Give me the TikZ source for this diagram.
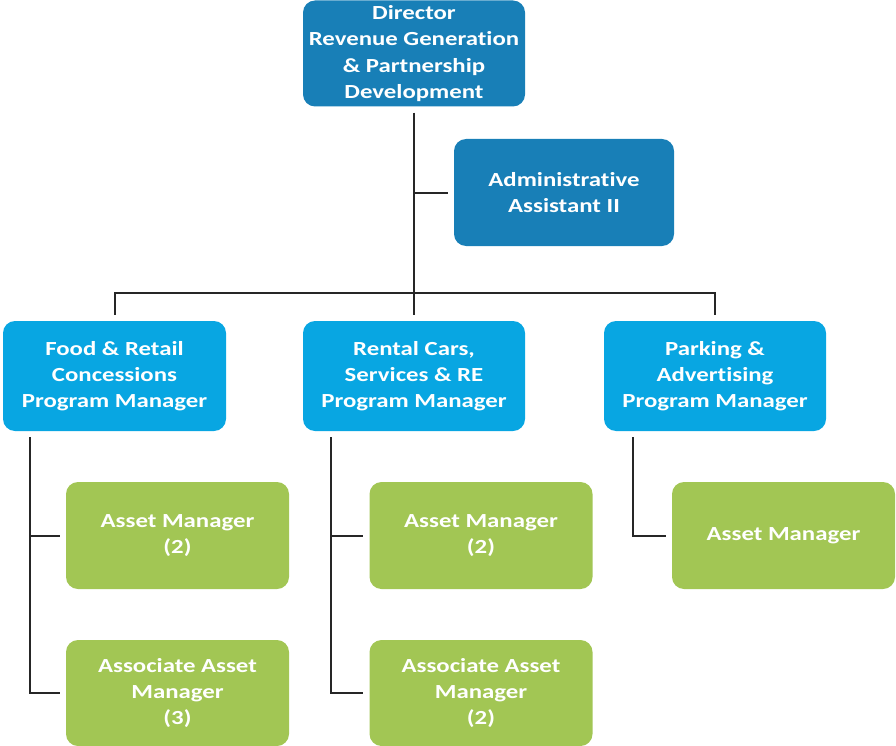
\documentclass[tikz,border=0pt]{standalone}
\usepackage{fontspec}
\setmainfont{Carlito}[FakeStretch=1.24, Ligatures={NoCommon}]
\definecolor{topblue}{RGB}{24,127,183}
\definecolor{pmblue}{RGB}{8,166,226}
\definecolor{staffgreen}{RGB}{162,198,84}
\definecolor{linegray}{RGB}{38,38,38}
\begin{document}
\begin{tikzpicture}[x=1pt,y=-1pt,
  box/.style={rounded corners=12pt, draw=none, minimum width=222pt, inner sep=0pt,
    align=center, text=white, font=\bfseries\fontsize{20}{26.3}\selectfont},
  exec/.style={box, fill=topblue},
  pm/.style={box, fill=pmblue, minimum height=110pt},
  staff/.style={box, fill=staffgreen, minimum width=223pt},
  conn/.style={draw=linegray, line width=2pt, shorten <=6pt, shorten >=6pt},
  branch/.style={draw=linegray, line width=2pt, shorten >=6pt}]
\useasboundingbox (0,0) rectangle (896,746);

% top level
\node[exec, minimum height=106pt] (dir) at (414,53.5)
  {Director\\Revenue Generation\\\& Partnership\\Development};
\node[exec, minimum width=220pt, minimum height=107pt] (adm) at (564,192.5)
  {Administrative\\Assistant II};

% program managers
\node[pm, minimum width=223pt] (food) at (114.5,376) {Food \& Retail\\Concessions\\Program Manager};
\node[pm] (rent) at (414,376) {Rental Cars,\\Services \& RE\\Program Manager};
\node[pm] (park) at (715,376) {Parking \&\\Advertising\\Program Manager};

% asset staff
\node[staff, minimum height=107pt] (am1) at (177.5,535.5) {Asset Manager\\(2)};
\node[staff, minimum height=106pt] (aam1) at (177.5,693) {Associate Asset\\Manager\\(3)};
\node[staff, minimum height=107pt] (am2) at (481,535.5) {Asset Manager\\(2)};
\node[staff, minimum height=106pt] (aam2) at (481,693) {Associate Asset\\Manager\\(2)};
\node[staff, minimum height=107pt] (am3) at (783.5,535.5) {Asset Manager};

% trunk and bus
\draw[conn] (dir.south) -- (rent.north);
\draw[branch] (dir.south |- adm.west) -- (adm.west);
\draw[conn] (food.north) -- ++(0,-28) -| (park.north);

% reporting lines under each program manager
\coordinate (lf) at ([xshift=27pt]food.south west);
\coordinate (mf) at ([xshift=28pt]rent.south west);
\coordinate (rf) at ([xshift=29pt]park.south west);
\draw[conn] (lf) |- (aam1.west);
\draw[branch] (lf |- am1.west) -- (am1.west);
\draw[conn] (mf) |- (aam2.west);
\draw[branch] (mf |- am2.west) -- (am2.west);
\draw[conn] (rf) |- (am3.west);
\end{tikzpicture}
\end{document}
